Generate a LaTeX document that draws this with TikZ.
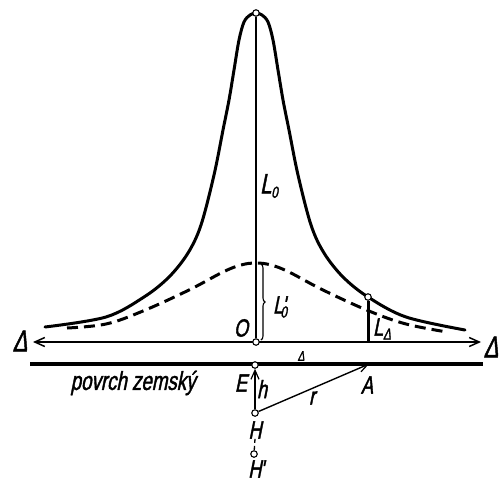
\documentclass[tikz,border=0pt]{standalone}
\usepackage{fontspec}
\usepackage{graphicx}
\usetikzlibrary{arrows.meta,decorations.pathreplacing}
\newfontfamily\lab[FakeStretch=0.72,FakeSlant=0.2,FakeBold=1.5]{Liberation Sans}
\newcommand\lsub[1]{\raisebox{-0.3ex}{\fontsize{16}{16}\selectfont #1}}
\begin{document}
\begin{tikzpicture}[x=1pt,y=-1pt,
  dot/.style={circle,draw,fill=white,inner sep=0pt,minimum size=6.5pt,line width=1.1pt},
  lbl/.style={inner sep=0pt,font=\lab\fontsize{25}{25}\selectfont},
  tip/.style={-{Straight Barb[length=9pt,width=8pt,line width=1.2pt]}},
  curve/.style={line width=3pt,line cap=round,line join=round}]
\useasboundingbox (0,0) rectangle (502,482);
% axis lines
\coordinate (DL) at (33,342);
\coordinate (DR) at (481,342);
\coordinate (SL) at (30,364);
\coordinate (SR) at (483,364);
\coordinate (A) at (369,364);
\coordinate (F) at (368,342);
\draw[line width=3.4pt] (SL) -- (SR);
\draw[line width=1.8pt,{Straight Barb[length=10pt,width=9pt,line width=1.5pt]}-{Straight Barb[length=10pt,width=9pt,line width=1.5pt]}] (DL) -- (DR);
% curves
\draw[curve] plot[smooth,tension=0.55] coordinates {(45,327) (106,317) (144,297) (169,277) (188,253) (201,225) (214,175) (223,130) (229,100) (234,70) (239,40) (244,22) (250,15) (256,13) (262,15) (268,22) (273,40) (278,70) (283,100) (289,130) (298,175) (311,225) (324,253) (343,277) (368,297) (406,317) (465,330)};
\draw[curve,line cap=butt,dash pattern=on 11pt off 6pt] plot[smooth,tension=0.6] coordinates {(67,328) (106,324) (143,311) (189,290) (223,272) (241,265) (256,263) (271,265) (289,272) (323,290) (369,311) (406,324) (447,332)};
% points
\node[dot] (T) at (256,13) {};
\node[dot] (O) at (256,342) {};
\node[dot] (P) at (368,297) {};
\draw[line width=1.4pt] (T) -- (O);
\draw[line width=3pt] (P) -- (F);
\draw[line width=1.1pt,decorate,decoration={brace,amplitude=4pt}] (261,264) -- (261,340);
\node[dot] (E) at (255,365) {};
\node[dot] (H) at (255,413) {};
\node[dot] (Hp) at (254,454) {};
\draw[line width=1.4pt,tip] (H) -- (E);
\draw[line width=1.4pt,tip] (H) -- (A);
% labels
\node[lbl,font=\lab\fontsize{28}{28}\selectfont] (lL0) at (269,186) {L\lsub{0}};
\node[lbl] (lL0p) at (280,307) {L\kern-1pt'\kern-5pt\lsub{0}};
\node[lbl] (lO) at (241,328) {O};
\node[lbl] (lLD) at (382,329) {L\lsub{Δ}};
\node[lbl,font=\lab\fontsize{30}{30}\selectfont] (lDL) at (20,341) {Δ};
\node[lbl,font=\lab\fontsize{30}{30}\selectfont] (lDR) at (491,347) {Δ};
\node[lbl,font=\lab\fontsize{14}{14}\selectfont] (ld) at (301,356) {Δ};
\node[lbl] (lE) at (241,383) {E};
\node[lbl] (lh) at (262,389) {h};
\node[lbl] (lA) at (367,385) {A};
\node[lbl] (lr) at (312,398) {r};
\node[lbl] (lH) at (255,430) {H};
\node[lbl] (lHp) at (256,469) {H\kern-1pt'};
\node[lbl,font=\lab\fontsize{26}{26}\selectfont] (pz) at (133,383) {povrch zemský};
\draw[line width=1.3pt,dash pattern=on 4pt off 3pt] (lH.south) -- (Hp);
\end{tikzpicture}
\end{document}
